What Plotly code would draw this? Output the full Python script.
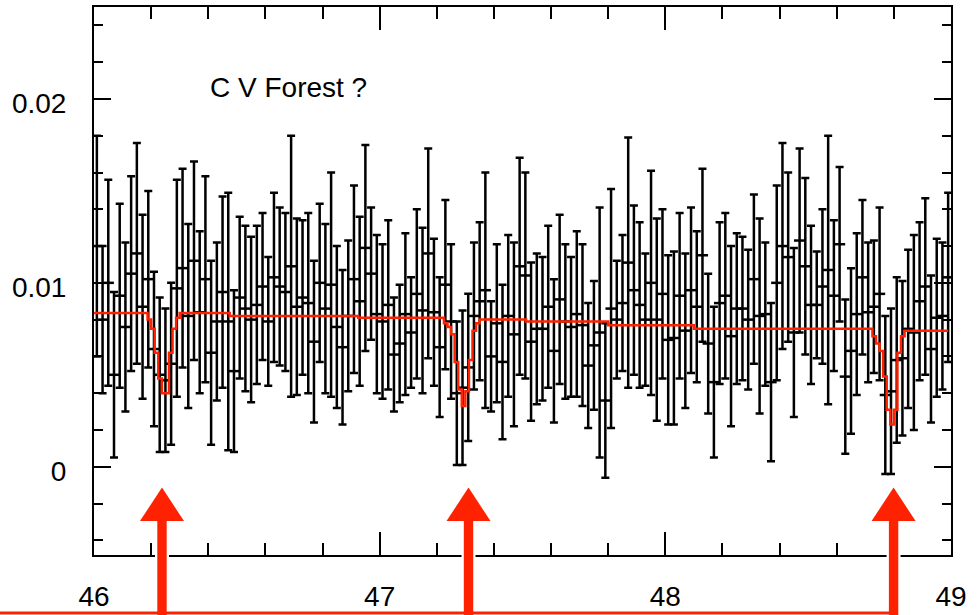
import plotly.graph_objects as go

# Spectrum bins: 0.02 A wide, 46-49 A
BIN_START = 46.0
BIN_WIDTH = 0.02

# Measured flux per bin (units of 1e-3) and its 1-sigma uncertainty
flux_e3 = [
    12.0, 8.0, 10.0, 5.0, 9.3, 7.6, 10.5, 11.6, 8.7, 10.2,
    6.4, 5.0, 4.7, 5.6, 9.7, 10.8, 8.2, 11.2, 8.4, 10.2,
    6.2, 7.9, 9.5, 7.9, 5.2, 9.2, 8.6, 8.0, 8.8, 9.8,
    7.9, 10.3, 9.8, 9.5, 10.9, 8.7, 9.2, 8.9, 6.8, 10.0,
    8.6, 9.9, 7.6, 6.5, 8.2, 10.2, 9.0, 11.9, 10.5, 8.3,
    7.9, 8.8, 6.1, 6.7, 8.3, 7.3, 9.4, 8.5, 11.6, 8.4,
    6.5, 9.9, 7.9, 4.0, 4.3, 5.4, 8.2, 9.0, 9.6, 6.0,
    7.8, 5.7, 8.2, 7.2, 10.9, 10.4, 6.8, 7.5, 7.5, 8.7,
    6.3, 9.1, 7.9, 7.6, 8.3, 7.7, 5.5, 6.6, 7.3, 3.6,
    8.6, 8.0, 8.9, 11.1, 9.6, 8.8, 8.0, 10.0, 8.0, 9.4,
    6.9, 7.0, 9.3, 7.4, 9.6, 8.7, 11.5, 6.7, 4.6, 8.9,
    9.3, 7.1, 8.6, 8.6, 8.0, 10.2, 8.2, 8.3, 4.6, 10.0,
    12.0, 11.4, 7.3, 12.3, 10.9, 8.8, 8.8, 9.8, 10.7, 9.3,
    12.1, 4.9, 6.3, 8.3, 10.3, 8.4, 8.7, 9.4, 3.9, 4.1,
    5.8, 5.9, 7.5, 7.3, 9.0, 9.8, 6.4, 8.1, 8.2, 10.3,
]
sigma_e3 = [
    6.0, 4.0, 5.6, 4.5, 5.0, 4.6, 5.3, 6.0, 5.0, 4.8,
    4.2, 4.2, 3.9, 4.4, 5.9, 5.4, 5.0, 5.4, 4.4, 5.6,
    5.0, 4.3, 5.2, 7.0, 4.4, 4.4, 4.5, 4.5, 4.3, 4.0,
    3.5, 4.6, 4.3, 4.3, 7.1, 4.8, 4.2, 4.9, 4.4, 4.3,
    4.6, 6.1, 4.4, 4.2, 4.1, 5.1, 4.6, 5.6, 3.6, 4.3,
    4.2, 4.6, 3.1, 3.2, 4.4, 3.0, 4.6, 4.5, 5.7, 4.0,
    3.8, 4.6, 4.2, 3.9, 4.2, 4.0, 4.0, 4.3, 6.4, 3.0,
    4.3, 4.2, 4.4, 5.0, 5.9, 5.6, 4.3, 4.1, 3.9, 4.4,
    3.9, 4.6, 4.2, 3.8, 4.5, 4.4, 3.4, 3.5, 6.8, 4.2,
    6.5, 3.2, 3.7, 6.8, 4.6, 4.5, 3.6, 6.1, 5.5, 4.6,
    4.6, 4.7, 4.5, 4.2, 4.5, 4.1, 4.7, 3.8, 4.1, 4.4,
    4.5, 4.9, 4.1, 3.9, 3.8, 4.6, 5.3, 3.9, 4.3, 5.3,
    5.6, 4.6, 4.6, 5.0, 4.8, 4.3, 2.9, 4.2, 7.3, 4.1,
    4.2, 4.2, 4.5, 4.4, 4.2, 3.8, 3.6, 4.7, 4.3, 4.5,
    4.5, 4.2, 4.3, 5.3, 4.3, 4.8, 4.0, 4.3, 4.0, 4.6,
]

# Absorption-line model: flux level starting at each wavelength (step function)
model_wave = [
    46.0, 46.1875, 46.2, 46.2125, 46.225, 46.2375, 46.2625, 46.275, 46.2875, 46.3,
    46.475, 46.925,
    47.225, 47.2375, 47.25, 47.2625, 47.275, 47.2875, 47.3, 47.3125, 47.325, 47.3375, 47.35,
    47.5125, 47.8, 48.1,
    48.725, 48.7375, 48.75, 48.7625, 48.775, 48.7875, 48.8, 48.8125, 48.825, 48.8375,
    48.99,
]
model_flux = [
    0.00836, 0.0080, 0.0075, 0.0062, 0.0048, 0.0040, 0.0062, 0.0075, 0.0081, 0.00836,
    0.0082, 0.0081,
    0.0078, 0.0076, 0.0072, 0.0057, 0.0042, 0.0033, 0.0041, 0.0058, 0.0074, 0.0078, 0.0080,
    0.0079, 0.0077, 0.0075,
    0.0071, 0.0067, 0.0063, 0.0049, 0.0031, 0.0023, 0.0031, 0.0062, 0.0071, 0.0074,
    0.0074,
]

# Wavelengths of the marked absorption features
arrow_waves = [46.238, 47.311, 48.799]

title_text = "C V Forest ?"
x_tickvals = [46, 47, 48, 49]
y_tickvals = [0.0, 0.01, 0.02]
y_ticktext = ["0", "0.01", "0.02"]

wave = [BIN_START + (i + 0.5) * BIN_WIDTH for i in range(len(flux_e3))]
flux = [v * 1e-3 for v in flux_e3]
sigma = [s * 1e-3 for s in sigma_e3]

RED = "#ff2200"
FONT = "Liberation Sans, Arial, Helvetica, sans-serif"
FONT_SIZE = 28

fig = go.Figure()

fig.add_trace(go.Scatter(
    x=wave, y=flux, mode="markers",
    marker=dict(symbol="line-ew", size=8, color="black",
                line=dict(color="black", width=2.5)),
    error_y=dict(type="data", array=sigma, visible=True,
                 color="black", thickness=2.5, width=4),
    hoverinfo="skip", showlegend=False,
))

fig.add_trace(go.Scatter(
    x=model_wave, y=model_flux, mode="lines",
    line=dict(color=RED, width=2.5, shape="hv"),
    hoverinfo="skip", showlegend=False,
))

# Arrows below the spectrum (x anchored to wavelength, widths in pixels)
TIP, HEAD_BASE, SHAFT_END = 0.123, 0.062, -0.13
shapes = []
for w in arrow_waves:
    shapes.append(dict(
        type="rect", xref="x", yref="paper", xsizemode="pixel", xanchor=w,
        x0=-7, x1=7, y0=SHAFT_END, y1=HEAD_BASE,
        fillcolor="white", line=dict(width=0), layer="above",
    ))
# Baseline rule along the bottom edge, ending at the last arrow
shapes.append(dict(
    type="line", xref="paper", yref="paper",
    x0=-0.12, x1=(arrow_waves[-1] - 46) / 3, y0=-0.1058, y1=-0.1058,
    line=dict(color=RED, width=3), layer="above",
))
for w in arrow_waves:
    shapes.append(dict(
        type="rect", xref="x", yref="paper", xsizemode="pixel", xanchor=w,
        x0=-4.7, x1=4.7, y0=SHAFT_END, y1=HEAD_BASE + 0.002,
        fillcolor=RED, line=dict(width=0), layer="above",
    ))
    shapes.append(dict(
        type="path", xref="x", yref="paper", xsizemode="pixel", xanchor=w,
        path=f"M -22,{HEAD_BASE} L 22,{HEAD_BASE} L 0,{TIP} Z",
        fillcolor=RED, line=dict(width=0), layer="above",
    ))

fig.add_annotation(
    x=46.4, y=0.0206, xref="x", yref="y", text=title_text,
    showarrow=False, xanchor="left", yanchor="middle",
    font=dict(family=FONT, size=FONT_SIZE, color="black"),
)

axis_common = dict(
    showline=True, linecolor="black", linewidth=2, mirror="ticks",
    ticks="inside", tickcolor="black", tickwidth=2,
    showgrid=False, zeroline=False, automargin=False,
    tickfont=dict(family=FONT, size=FONT_SIZE, color="black"),
)

fig.update_xaxes(
    range=[46, 49], tickvals=x_tickvals, ticklen=23,
    minor=dict(dtick=0.2, ticks="inside", ticklen=12, tickcolor="black", tickwidth=2),
    ticklabelstandoff=15,
    **axis_common,
)
fig.update_yaxes(
    range=[-0.0048, 0.025], tickvals=y_tickvals, ticktext=y_ticktext, ticklen=17,
    minor=dict(dtick=0.002, ticks="inside", ticklen=9, tickcolor="black", tickwidth=2),
    ticklabelstandoff=20, ticklabelshift=4,
    **axis_common,
)

fig.update_layout(
    width=979, height=615,
    margin=dict(l=94, r=28, t=7, b=60),
    paper_bgcolor="white", plot_bgcolor="white",
    shapes=shapes,
)

fig.write_html("out.html")
